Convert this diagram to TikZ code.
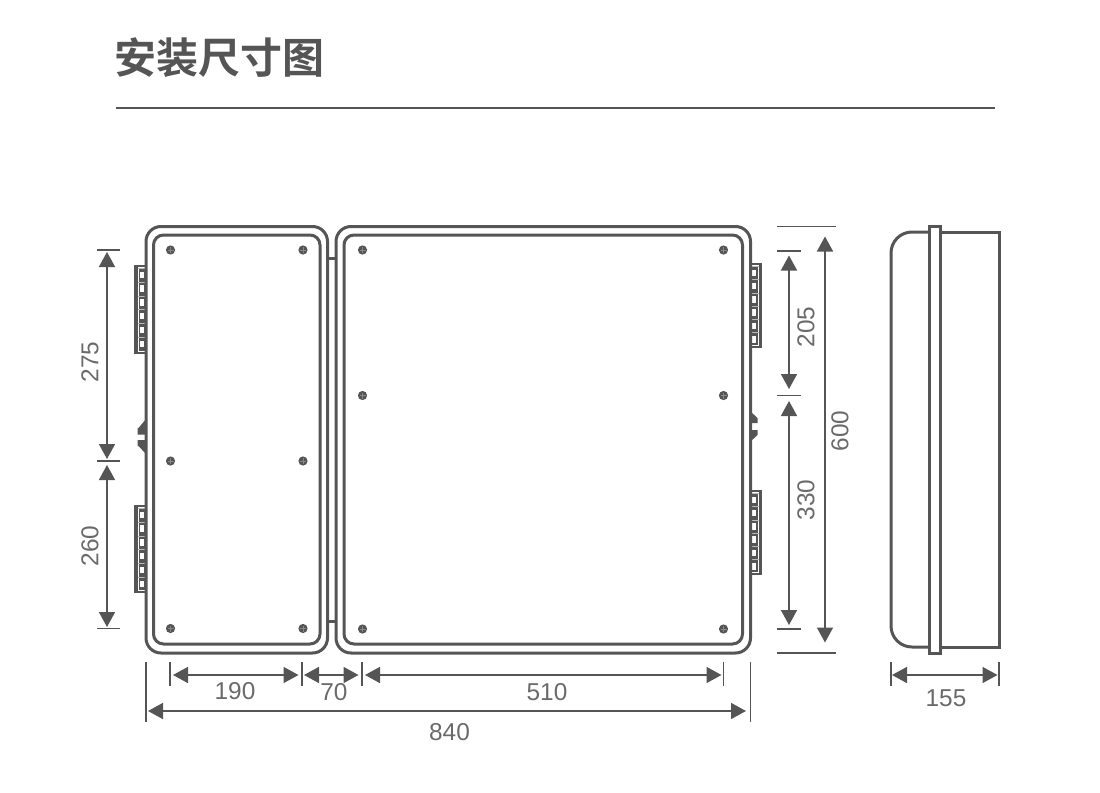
\documentclass[tikz,border=0pt]{standalone}
\usepackage{fontspec}
\setmainfont{Liberation Sans}
\newfontfamily\cjk{Noto Sans CJK SC}[BoldFont={* Bold}]
\usetikzlibrary{arrows.meta}
\definecolor{inkgray}{HTML}{555555}
\definecolor{textgray}{HTML}{6A6A6A}
\tikzset{
  wall/.style={draw=inkgray, line width=1.5pt},
  dimline/.style={draw=inkgray, line width=0.8pt, {Triangle[length=7.5pt,width=8pt]}-{Triangle[length=7.5pt,width=8pt]}},
  extline/.style={draw=inkgray, line width=0.7pt},
  dimtext/.style={text=textgray, font=\fontsize{12.2}{12.2}\selectfont, inner sep=0pt},
}
\begin{document}
\begin{tikzpicture}[x=0.5pt,y=-0.5pt]
    \useasboundingbox (0,0) rectangle (1100,793);

    % screw at (x,y)
    \newcommand{\screw}[2]
    {
      \fill[inkgray] (#1,#2) circle (2.3pt);
      \draw[inkgray!70!white, line width=0.15pt] (#1-3,#2) -- (#1+3,#2) (#1,#2-3) -- (#1,#2+3);
    }
    % terminal strip: left x, top y, height, pitch, side (1 left of door, 0 right of door)
    \newcommand{\strip}[5]
    {
      \pgfmathsetmacro\frameL{#5==1 ? #1+3.8 : #1}
      \pgfmathsetmacro\frameR{#5==1 ? #1+12 : #1+8.6}
      \pgfmathsetmacro\holeL{#5==1 ? #1+5.6 : #1+1.8}
      \fill[inkgray] (#1,#2) rectangle (#1+12,#2+#3);
      \draw[white, line width=0.15pt] (\frameL,#2+2.5) rectangle (\frameR,#2+#3-2.5);
      \foreach \k in {0,1,2,3,4,5}
      {
         \fill[white] (\holeL,#2+6.5+\k*#4) rectangle (\holeL+4.6,#2+13+\k*#4);
         \draw[white!60!inkgray, line width=0.1pt] (\frameL,#2+3+\k*#4) -- (\frameR,#2+3+\k*#4);
      }
    }

    % Title
    \node[font=\cjk\bfseries\fontsize{21}{21}\selectfont, text=inkgray, inner sep=0pt] (title) at (219.5,58) {安装尺寸图};
    \coordinate (ruleL) at (116,108);
    \coordinate (ruleR) at (995,108);
    \draw[draw=inkgray, line width=0.75pt] (ruleL) -- (ruleR);

    % Terminal strips
    \strip{134}{265}{89}{13.8}{1}
    \strip{134}{505}{88}{13.8}{1}
    \strip{750}{263}{85}{13.3}{0}
    \strip{750}{490}{85}{13.3}{0}

    % Latches
    \fill[inkgray] (146,419) -- (138.5,428) -- (137.5,428) -- (137.5,434.5) -- (146,434.5) -- cycle;
    \fill[inkgray] (146,454) -- (138.5,446) -- (137.5,446) -- (137.5,440) -- (146,440) -- cycle;
    \fill[inkgray] (750,411) -- (757.5,418) -- (757.5,423) -- (750,423) -- cycle;
    \fill[inkgray] (750,442) -- (757.5,435) -- (757.5,430) -- (750,430) -- cycle;

    % Left door
    \draw[wall, fill=white, rounded corners=7.5pt] (146,226.5) rectangle (327.5,653);
    \draw[wall, rounded corners=5pt] (153.5,235) rectangle (320,644);

    % Right door
    \draw[wall, fill=white, rounded corners=7.5pt] (336,226.5) rectangle (750.5,653);
    \draw[wall, rounded corners=5pt] (344,235) rectangle (742.5,644);

    % Hinge
    \draw[wall] (327.5,258) -- (336,258);
    \draw[wall] (327.5,621) -- (336,621);

    % Screws
    \foreach \x in {170.5,303}
    {
       \foreach \y in {250,461,628.5}
       {
          \screw{\x}{\y}
       }
    }
    \foreach \x in {362.5,723.5}
    {
       \foreach \y in {250,395.5,629}
       {
          \screw{\x}{\y}
       }
    }

    % Side view
    \draw[wall, rounded corners=10.5pt] (929,232) -- (891,232) -- (891,647) -- (929,647);
    \draw[wall] (940,232) -- (999,232) -- (999,647) -- (940,647);
    \draw[wall, fill=white] (929,226.5) rectangle (940,653);

    % Extension lines, left
    \foreach \n/\y in {lA/250,lB/461,lC/628.5}
    {
       \coordinate (\n a) at (97,\y);
       \coordinate (\n b) at (119.5,\y);
       \draw[extline] (\n a) -- (\n b);
    }
    % Extension lines, right
    \foreach \n/\y/\xe in {rA/251/801,rB/395.5/801,rC/629/801,rD/226.5/836,rE/653/836}
    {
       \coordinate (\n a) at (776.5,\y);
       \coordinate (\n b) at (\xe,\y);
       \draw[extline] (\n a) -- (\n b);
    }
    % Extension lines, bottom
    \foreach \n/\x/\ye in {bA/170/686,bB/302/686,bC/362/686,bD/723.5/686,bE/146/722,bF/750.5/722,bG/891/686,bH/999/686}
    {
       \coordinate (\n a) at (\x,662);
       \coordinate (\n b) at (\x,\ye);
       \draw[extline] (\n a) -- (\n b);
    }

    % Dimension end points
    \coordinate (d275a) at (107,252);
    \coordinate (d275b) at (107,459);
    \coordinate (d260a) at (107,465);
    \coordinate (d260b) at (107,627);
    \coordinate (d205a) at (789,255.5);
    \coordinate (d205b) at (789,389);
    \coordinate (d330a) at (789,401);
    \coordinate (d330b) at (789,625);
    \coordinate (d600a) at (825,236.5);
    \coordinate (d600b) at (825,642.5);
    \coordinate (d190a) at (173,675);
    \coordinate (d190b) at (298.5,675);
    \coordinate (d70a) at (304,675);
    \coordinate (d70b) at (358.5,675);
    \coordinate (d510a) at (365,675);
    \coordinate (d510b) at (721.5,675);
    \coordinate (d840a) at (148,711);
    \coordinate (d840b) at (746,711);
    \coordinate (d155a) at (892,675);
    \coordinate (d155b) at (997.5,675);

    \foreach \n in {275,260,205,330,600,190,70,510,840,155}
       \draw[dimline] (d\n a) -- (d\n b);

    % Labels
    \node[dimtext, rotate=90] (t275) at (90,362) {275};
    \node[dimtext, rotate=90] (t260) at (90,546) {260};
    \node[dimtext, rotate=90] (t205) at (806,327) {205};
    \node[dimtext, rotate=90] (t330) at (806,500) {330};
    \node[dimtext, rotate=90] (t600) at (840,431) {600};
    \node[dimtext] (t190) at (235,691.5) {190};
    \node[dimtext] (t70) at (334,692) {70};
    \node[dimtext] (t510) at (547,692) {510};
    \node[dimtext] (t840) at (449.5,732) {840};
    \node[dimtext] (t155) at (946,698) {155};
\end{tikzpicture}
\end{document}
